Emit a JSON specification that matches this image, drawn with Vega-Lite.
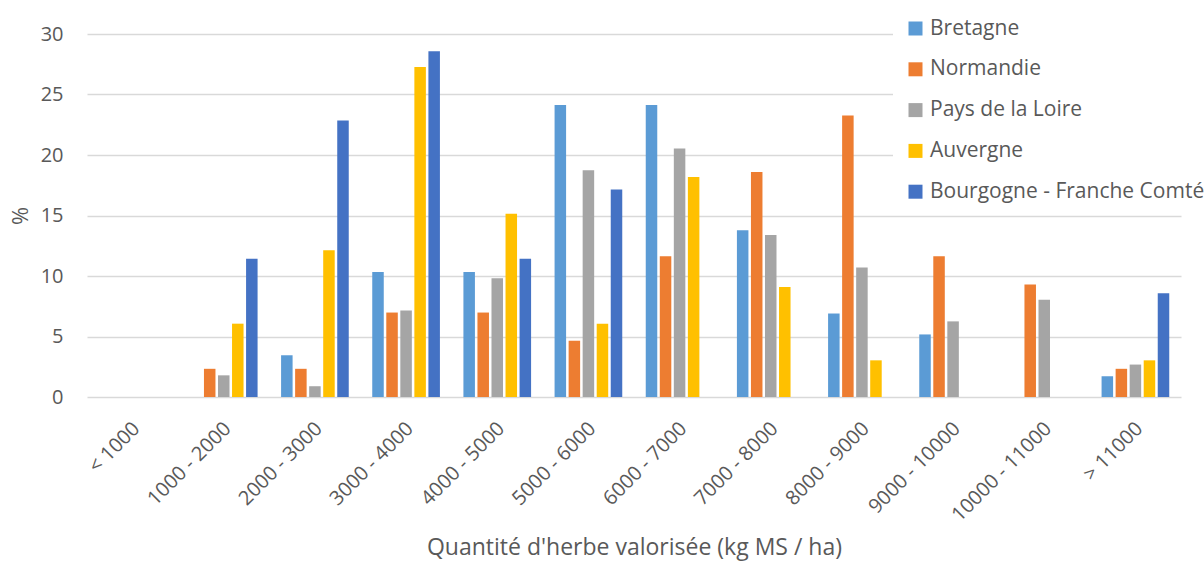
{
  "$schema": "https://vega.github.io/schema/vega-lite/v6.json",
  "autosize": "none",
  "width": 1094,
  "height": 363,
  "padding": {"left": 87, "top": 34, "right": 23, "bottom": 170},
  "background": "white",
  "config": {
    "view": {"stroke": null},
    "font": "Open Sans",
    "axis": {"labelFont": "Open Sans", "titleFont": "Open Sans", "labelColor": "#595959", "titleColor": "#595959", "titleFontWeight": "normal"},
    "legend": {"labelFont": "Open Sans"}
  },
  "data": {
    "values": [
      {"cat": "1000 - 2000", "region": "Normandie", "pct": 2.33},
      {"cat": "1000 - 2000", "region": "Pays de la Loire", "pct": 1.79},
      {"cat": "1000 - 2000", "region": "Auvergne", "pct": 6.06},
      {"cat": "1000 - 2000", "region": "Bourgogne - Franche Comté", "pct": 11.43},
      {"cat": "2000 - 3000", "region": "Bretagne", "pct": 3.45},
      {"cat": "2000 - 3000", "region": "Normandie", "pct": 2.33},
      {"cat": "2000 - 3000", "region": "Pays de la Loire", "pct": 0.89},
      {"cat": "2000 - 3000", "region": "Auvergne", "pct": 12.12},
      {"cat": "2000 - 3000", "region": "Bourgogne - Franche Comté", "pct": 22.86},
      {"cat": "3000 - 4000", "region": "Bretagne", "pct": 10.34},
      {"cat": "3000 - 4000", "region": "Normandie", "pct": 6.98},
      {"cat": "3000 - 4000", "region": "Pays de la Loire", "pct": 7.14},
      {"cat": "3000 - 4000", "region": "Auvergne", "pct": 27.27},
      {"cat": "3000 - 4000", "region": "Bourgogne - Franche Comté", "pct": 28.57},
      {"cat": "4000 - 5000", "region": "Bretagne", "pct": 10.34},
      {"cat": "4000 - 5000", "region": "Normandie", "pct": 6.98},
      {"cat": "4000 - 5000", "region": "Pays de la Loire", "pct": 9.82},
      {"cat": "4000 - 5000", "region": "Auvergne", "pct": 15.15},
      {"cat": "4000 - 5000", "region": "Bourgogne - Franche Comté", "pct": 11.43},
      {"cat": "5000 - 6000", "region": "Bretagne", "pct": 24.14},
      {"cat": "5000 - 6000", "region": "Normandie", "pct": 4.65},
      {"cat": "5000 - 6000", "region": "Pays de la Loire", "pct": 18.75},
      {"cat": "5000 - 6000", "region": "Auvergne", "pct": 6.06},
      {"cat": "5000 - 6000", "region": "Bourgogne - Franche Comté", "pct": 17.14},
      {"cat": "6000 - 7000", "region": "Bretagne", "pct": 24.14},
      {"cat": "6000 - 7000", "region": "Normandie", "pct": 11.63},
      {"cat": "6000 - 7000", "region": "Pays de la Loire", "pct": 20.54},
      {"cat": "6000 - 7000", "region": "Auvergne", "pct": 18.18},
      {"cat": "7000 - 8000", "region": "Bretagne", "pct": 13.79},
      {"cat": "7000 - 8000", "region": "Normandie", "pct": 18.6},
      {"cat": "7000 - 8000", "region": "Pays de la Loire", "pct": 13.39},
      {"cat": "7000 - 8000", "region": "Auvergne", "pct": 9.09},
      {"cat": "8000 - 9000", "region": "Bretagne", "pct": 6.9},
      {"cat": "8000 - 9000", "region": "Normandie", "pct": 23.26},
      {"cat": "8000 - 9000", "region": "Pays de la Loire", "pct": 10.71},
      {"cat": "8000 - 9000", "region": "Auvergne", "pct": 3.03},
      {"cat": "9000 - 10000", "region": "Bretagne", "pct": 5.17},
      {"cat": "9000 - 10000", "region": "Normandie", "pct": 11.63},
      {"cat": "9000 - 10000", "region": "Pays de la Loire", "pct": 6.25},
      {"cat": "10000 - 11000", "region": "Normandie", "pct": 9.3},
      {"cat": "10000 - 11000", "region": "Pays de la Loire", "pct": 8.04},
      {"cat": "> 11000", "region": "Bretagne", "pct": 1.72},
      {"cat": "> 11000", "region": "Normandie", "pct": 2.33},
      {"cat": "> 11000", "region": "Pays de la Loire", "pct": 2.68},
      {"cat": "> 11000", "region": "Auvergne", "pct": 3.03},
      {"cat": "> 11000", "region": "Bourgogne - Franche Comté", "pct": 8.57}
    ]
  },
  "mark": {"type": "bar"},
  "encoding": {
    "x": {
      "field": "cat",
      "type": "nominal",
      "sort": null,
      "scale": {
        "domain": ["< 1000", "1000 - 2000", "2000 - 3000", "3000 - 4000", "4000 - 5000", "5000 - 6000", "6000 - 7000", "7000 - 8000", "8000 - 9000", "9000 - 10000", "10000 - 11000", "> 11000"],
        "paddingInner": 0.23,
        "paddingOuter": 0.115
      },
      "axis": {
        "title": "Quantité d'herbe valorisée (kg MS / ha)",
        "titleFontSize": 23,
        "titlePadding": 12,
        "labelAngle": -45,
        "labelFontSize": 20,
        "labelPadding": 21,
        "labelOffset": -3,
        "ticks": false,
        "domain": false
      }
    },
    "xOffset": {
      "field": "region",
      "type": "nominal",
      "scale": {
        "domain": ["Bretagne", "Normandie", "Pays de la Loire", "Auvergne", "Bourgogne - Franche Comté"],
        "paddingInner": 0.18,
        "paddingOuter": 0.09
      }
    },
    "y": {
      "field": "pct",
      "type": "quantitative",
      "scale": {"domain": [0, 30], "nice": false},
      "axis": {
        "title": "%",
        "titleFontSize": 22,
        "titlePadding": 8,
        "values": [0, 5, 10, 15, 20, 25, 30],
        "labelFontSize": 20,
        "labelPadding": 24,
        "ticks": false,
        "domain": false,
        "gridColor": "#D9D9D9",
        "gridWidth": 1.5
      }
    },
    "color": {
      "field": "region",
      "type": "nominal",
      "scale": {
        "domain": ["Bretagne", "Normandie", "Pays de la Loire", "Auvergne", "Bourgogne - Franche Comté"],
        "range": ["#5B9BD5", "#ED7D31", "#A5A5A5", "#FFC000", "#4472C4"]
      },
      "legend": {
        "title": null,
        "orient": "none",
        "legendX": 806,
        "legendY": -28,
        "padding": 12,
        "fillColor": "white",
        "symbolType": "square",
        "symbolSize": 196,
        "symbolStrokeWidth": 0,
        "labelFontSize": 21,
        "labelColor": "#595959",
        "labelOffset": 4,
        "labelLimit": 400,
        "rowPadding": 18.8
      }
    }
  }
}
